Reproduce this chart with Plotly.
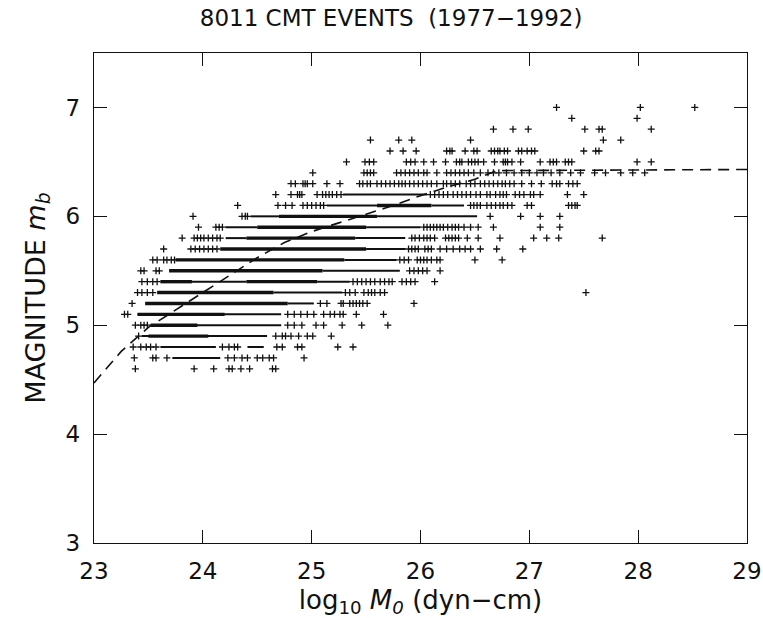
import plotly.graph_objects as go

# ---------------- data ----------------
x_ticks = [23, 24, 25, 26, 27, 28, 29]
y_ticks = [3, 4, 5, 6, 7]

# sparse events, one list per m_b level (log10 M0 values)
mb_levels = [4.6, 4.7, 4.8, 4.9, 5.0, 5.1, 5.2, 5.3, 5.4, 5.5, 5.6, 5.7, 5.8,
             5.9, 6.0, 6.1, 6.2, 6.3, 6.4, 6.5, 6.6, 6.7, 6.8, 6.9, 7.0]
r46 = [23.38, 23.92, 24.10, 24.24, 24.27, 24.35, 24.43, 24.64, 24.67]
r47 = [23.37, 23.54, 23.57, 23.67, 24.23, 24.29, 24.36, 24.41, 24.50, 24.55, 24.61, 24.65, 24.93]
r48 = [23.36, 23.43, 23.48, 23.52, 23.57, 24.18, 24.24, 24.29, 24.32, 24.68, 24.73, 24.87, 24.91,
       25.24, 25.38]
r49 = [23.41, 24.67, 24.73, 24.76, 24.81, 24.88, 24.96, 25.01, 25.18]
r50 = [23.38, 23.43, 23.46, 23.49, 24.78, 24.84, 24.91, 25.04, 25.11, 25.28, 25.46, 25.70]
r51 = [23.28, 23.31, 24.78, 24.84, 24.90, 24.96, 25.02, 25.11, 25.17, 25.21, 25.26, 25.29, 25.41,
       25.66]
r52 = [23.35, 25.08, 25.14, 25.27, 25.29, 25.35, 25.38, 25.41, 25.44, 25.47, 25.51, 25.94]
r53 = [23.40, 23.44, 23.49, 23.54, 25.31, 25.35, 25.40, 25.48, 25.52, 25.55, 25.58, 25.63, 25.67,
       27.52]
r54 = [23.44, 23.49, 23.54, 23.58, 25.38, 25.42, 25.46, 25.50, 25.54, 25.58, 25.63, 25.67, 25.71,
       25.74, 25.83, 25.87, 25.91, 25.95, 26.13]
r55 = [23.43, 23.46, 23.57, 23.60, 25.90, 25.94, 25.98, 26.02, 26.06, 26.18]
r56 = [23.54, 23.58, 23.64, 23.67, 23.71, 23.74, 25.81, 25.85, 25.89, 25.97, 26.00, 26.03, 26.06,
       26.10, 26.15, 26.18, 26.50, 26.75]
r57 = [23.64, 23.89, 23.93, 23.97, 24.01, 24.05, 24.09, 24.13, 25.89, 25.92, 25.95, 25.98, 26.04,
       26.07, 26.10, 26.18, 26.24, 26.30, 26.36, 26.41, 26.46, 26.55, 26.70, 26.94]
r58 = [23.81, 23.92, 23.95, 23.98, 24.01, 24.05, 24.09, 24.13, 24.16, 25.92, 25.95, 25.99, 26.03,
       26.06, 26.09, 26.13, 26.23, 26.26, 26.29, 26.32, 26.35, 26.43, 26.53, 26.73, 27.04, 27.16,
       27.27, 27.67]
r59 = [23.96, 24.12, 24.15, 24.18, 26.03, 26.06, 26.09, 26.12, 26.15, 26.18, 26.21, 26.25, 26.29,
       26.32, 26.35, 26.40, 26.46, 26.53, 26.67, 27.10, 27.28]
r60 = [23.91, 24.36, 24.39, 24.41, 26.64, 26.92, 27.10, 27.28]
r61 = [24.32, 24.69, 24.76, 24.82, 24.92, 24.96, 25.00, 25.04, 25.08, 25.11, 26.46, 26.49, 26.52,
       26.55, 26.61, 26.65, 26.69, 26.73, 26.76, 26.80, 26.84, 26.98, 27.02, 27.36, 27.39, 27.42,
       27.44]
r62 = [24.67, 24.81, 24.87, 24.89, 24.91, 25.05, 25.10, 25.13, 25.16, 25.19, 25.23, 25.27, 26.09,
       26.13, 26.17, 26.21, 26.25, 26.30, 26.34, 26.38, 26.42, 26.46, 26.51, 26.55, 26.61, 26.64,
       26.69, 26.73, 26.76, 26.79, 26.87, 26.91, 26.95, 27.01, 27.04, 27.10, 27.35, 27.50]
r63 = [24.81, 24.85, 24.92, 24.94, 24.96, 25.01, 25.14, 25.26, 25.44, 25.47, 25.51, 25.54, 25.60,
       25.64, 25.68, 25.72, 25.76, 25.80, 25.83, 25.86, 25.90, 25.94, 25.98, 26.02, 26.06, 26.10,
       26.15, 26.21, 26.24, 26.28, 26.32, 26.36, 26.42, 26.46, 26.50, 26.55, 26.59, 26.63, 26.67,
       26.71, 26.75, 26.78, 26.82, 26.86, 26.93, 27.02, 27.11, 27.21, 27.25, 27.28, 27.36, 27.40,
       27.44]
r64 = [25.01, 25.48, 25.51, 25.54, 25.57, 25.78, 25.82, 25.86, 25.90, 25.94, 25.98, 26.03, 26.06,
       26.15, 26.24, 26.28, 26.32, 26.36, 26.40, 26.44, 26.49, 26.55, 26.62, 26.67, 26.72, 26.79,
       26.86, 26.93, 27.00, 27.07, 27.13, 27.20, 27.28, 27.38, 27.47, 27.60, 27.70, 27.84, 27.95,
       28.06]
r65 = [25.32, 25.49, 25.53, 25.57, 25.87, 25.91, 25.95, 26.03, 26.12, 26.23, 26.33, 26.36, 26.38,
       26.44, 26.47, 26.50, 26.53, 26.58, 26.68, 26.76, 26.78, 26.80, 26.84, 26.92, 27.10, 27.19,
       27.22, 27.25, 27.33, 27.36, 27.39, 27.99, 28.12]
r66 = [25.72, 25.84, 25.96, 26.24, 26.27, 26.29, 26.41, 26.49, 26.52, 26.65, 26.68, 26.71, 26.73,
       26.77, 26.80, 26.90, 26.93, 26.98, 27.02, 27.05, 27.50, 27.61, 27.64]
r67 = [25.54, 25.80, 25.92, 26.46, 27.68, 27.84]
r68 = [26.67, 26.85, 26.99, 27.51, 27.64, 27.67, 28.12]
r69 = [27.39, 27.99]
r70 = [27.25, 28.02, 28.52]
sparse_rows = [r46, r47, r48, r49, r50, r51, r52, r53, r54, r55, r56, r57, r58,
               r59, r60, r61, r62, r63, r64, r65, r66, r67, r68, r69, r70]

# densely packed runs of events (m_b, start, end)
heavy_mb = [4.9, 5.0, 5.1, 5.2, 5.3, 5.4, 5.4, 5.5, 5.6, 5.7, 5.8, 5.9, 6.0, 6.1]
heavy_x0 = [23.50, 23.52, 23.40, 23.47, 23.58, 23.61, 24.40, 23.69, 23.75, 24.16, 24.40, 24.50, 24.70, 25.60]
heavy_x1 = [24.05, 23.95, 24.20, 24.78, 24.65, 23.90, 25.05, 25.10, 25.30, 25.50, 25.40, 25.50, 25.60, 26.10]

light_mb = [4.7, 4.8, 4.8, 4.9, 5.0, 5.1, 5.2, 5.3, 5.4, 5.4, 5.5, 5.6, 5.7, 5.8, 5.8,
            5.9, 5.9, 6.0, 6.0, 6.1, 6.1, 6.2]
light_x0 = [23.72, 23.61, 24.41, 23.44, 23.52, 23.40, 24.78, 24.65, 23.90, 25.05, 25.10, 25.30, 25.50,
            24.21, 25.40, 24.21, 25.50, 24.44, 25.60, 25.14, 26.10, 25.29]
light_x1 = [24.16, 24.12, 24.56, 24.59, 24.72, 24.72, 25.02, 25.28, 24.40, 25.35, 25.81, 25.78, 25.86,
            24.40, 25.86, 24.50, 26.00, 24.70, 26.52, 25.60, 26.40, 26.06]

# dashed theoretical curve
curve_x = [23.0, 23.25, 23.5, 23.75, 24.0, 24.25, 24.5, 24.75, 25.0, 25.25, 25.5, 25.75,
           26.0, 26.25, 26.5, 26.7, 29.0]
curve_y = [4.47, 4.76, 4.98, 5.14, 5.30, 5.46, 5.62, 5.76, 5.86, 5.94, 6.02, 6.10,
           6.19, 6.27, 6.34, 6.42, 6.43]

# ---------------- figure ----------------
FONT = "DejaVu Sans"
INK = "#111111"

fig = go.Figure()


def seg_xy(mbs, x0s, x1s):
    xs, ys = [], []
    for m, a, b in zip(mbs, x0s, x1s):
        xs += [a, b, None]
        ys += [m, m, None]
    return xs, ys


lx, ly = seg_xy(light_mb, light_x0, light_x1)
fig.add_trace(go.Scatter(x=lx, y=ly, mode="lines", line=dict(color=INK, width=2.0),
                         hoverinfo="skip", showlegend=False))
hx, hy = seg_xy(heavy_mb, heavy_x0, heavy_x1)
fig.add_trace(go.Scatter(x=hx, y=hy, mode="lines", line=dict(color=INK, width=3.4),
                         hoverinfo="skip", showlegend=False))

px_, py_ = [], []
for m, row in zip(mb_levels, sparse_rows):
    px_ += row
    py_ += [m] * len(row)
fig.add_trace(go.Scatter(x=px_, y=py_, mode="markers",
                         marker=dict(symbol="cross-thin", size=5, color=INK,
                                     line=dict(color=INK, width=1.3)),
                         showlegend=False))

fig.add_trace(go.Scatter(x=curve_x, y=curve_y, mode="lines",
                         line=dict(color=INK, width=1.6, dash="11px,7px"),
                         showlegend=False))

axis_common = dict(showline=True, linecolor=INK, linewidth=1.4, mirror="ticks",
                   ticks="inside", ticklen=13, tickwidth=1.2, tickcolor=INK,
                   showgrid=False, zeroline=False, automargin=False,
                   tickfont=dict(family=FONT, size=23, color=INK))

fig.update_layout(
    width=763, height=618,
    margin=dict(l=94, r=16, t=53, b=75),
    paper_bgcolor="white", plot_bgcolor="white",
    title=dict(text="8011 CMT EVENTS  (1977\u22121992)", x=0.455, xref="paper",
               xanchor="center", y=1 - 18 / 618, yanchor="middle", yref="container",
               font=dict(family=FONT, size=23, color=INK)),
    xaxis=dict(range=[23, 29], tickvals=x_ticks, ticktext=[str(v) for v in x_ticks],
               ticklabelstandoff=7,
               title=dict(text="log<sub>10</sub> <i>M<sub>0</sub></i> (dyn\u2212cm)",
                          font=dict(family=FONT, size=26, color=INK), standoff=10),
               **axis_common),
    yaxis=dict(range=[3, 7.5], tickvals=y_ticks, ticktext=[str(v) for v in y_ticks],
               ticklabelstandoff=8,
               title=dict(text="MAGNITUDE <i>m<sub>b</sub></i>",
                          font=dict(family=FONT, size=27, color=INK), standoff=12),
               **axis_common),
)

fig.write_html("out.html", config={"displayModeBar": False},
               post_script="document.body.style.margin='0';")
